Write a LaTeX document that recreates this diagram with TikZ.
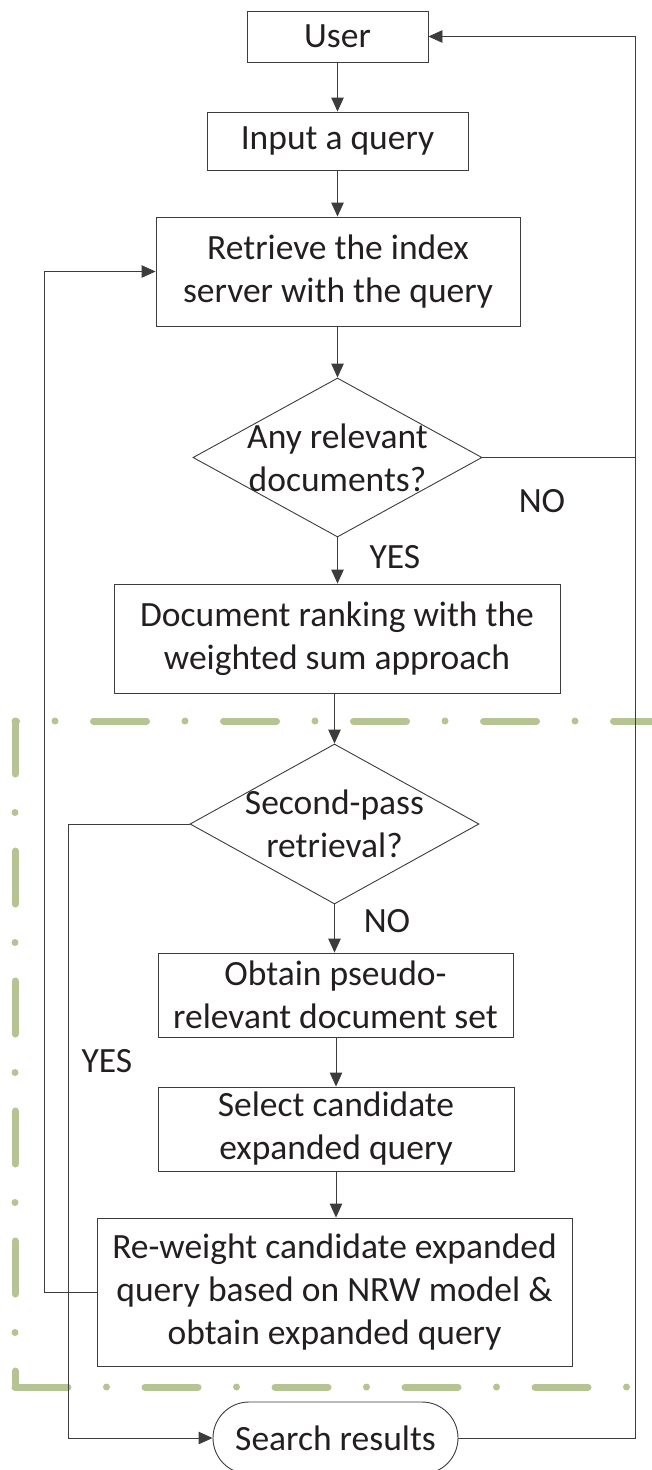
\documentclass[tikz,border=0pt]{standalone}
\usepackage{fontspec}
\setmainfont{Carlito}
\usetikzlibrary{shapes.geometric,arrows.meta}
\definecolor{txt}{RGB}{35,31,32}
\definecolor{edge}{RGB}{60,60,60}
\definecolor{olivedash}{RGB}{181,196,146}
\tikzset{
  every node/.style={font=\fontsize{35.5}{43}\selectfont, text=txt},
  box/.style={draw=edge, line width=0.9pt, rectangle, inner sep=0pt, align=center},
  decision/.style={draw=edge, line width=0.9pt, diamond, inner sep=0pt, aspect=1.8},
  term/.style={draw=edge, line width=0.9pt, rectangle, rounded corners=36pt, inner sep=0pt},
  conn/.style={draw=edge, line width=0.9pt},
  arr/.style={conn, -{Triangle[length=14pt,width=12.5pt]}},
  sep/.style={draw=olivedash, line width=7pt, line cap=round,
    dash pattern=on 53pt off 38.5pt on 0pt off 38.5pt},
  lbl/.style={anchor=base, inner sep=0pt}
}
\begin{document}
\begin{tikzpicture}[x=1pt,y=-1pt]
\useasboundingbox (0,0) rectangle (652,1470);
\clip (0,0) rectangle (652,1470);
% dash-dot separators
\draw[sep, dash phase=51.5pt] (15,721) -- (690,721);
\draw[sep] (15,721) -- (15,1387);
\draw[sep] (15,1387) -- (640,1387);
% nodes
\node[box, minimum width=181pt, minimum height=51pt] (user) at (337.5,36.5) {User};
\node[box, minimum width=261pt, minimum height=58pt] (input) at (337.5,141) {Input a query};
\node[box, minimum width=364pt, minimum height=109pt] (retr) at (338,271.5) {Retrieve the index\\server with the query};
\node[decision, minimum width=289pt, minimum height=159pt] (d1) at (337.5,457.5) {};
\node[align=center, inner sep=0pt] (d1t) at (d1.center) {Any relevant\\documents?};
\node[box, minimum width=446pt, minimum height=109pt] (rank) at (337,638.5) {Document ranking with the\\weighted sum approach};
\node[decision, minimum width=289pt, minimum height=160pt] (d2) at (334.5,824) {};
\node[align=center, inner sep=0pt] (d2t) at (d2.center) {Second-pass\\retrieval?};
\node[box, minimum width=355pt, minimum height=84pt] (obt) at (335.5,995) {Obtain pseudo-\\relevant document set};
\node[box, minimum width=356pt, minimum height=84pt] (sel) at (336,1129) {Select candidate\\expanded query};
\node[box, minimum width=475pt, minimum height=148pt] (rew) at (334.5,1292) {Re-weight candidate expanded\\query based on NRW model \&\\obtain expanded query};
\node[term, minimum width=245pt, minimum height=72pt] (res) at (335.5,1438) {Search results};
% labels
\node[lbl] (yes1) at (395,568) {YES};
\node[lbl] (no1) at (542,512) {NO};
\node[lbl] (no2) at (387,932) {NO};
\node[lbl] (yes2) at (107,1072) {YES};
% helper coordinates
\coordinate (rx) at (635,0);
\coordinate (lx1) at (44,0);
\coordinate (lx2) at (68,0);
% main flow
\draw[arr] (user.south) -- (user.south |- input.north);
\draw[arr] (input.south) -- (input.south |- retr.north);
\draw[arr] (retr.south -| d1.north) -- (d1.north);
\draw[arr] (d1.south) -- (d1.south |- rank.north);
\draw[arr] (d2.north |- rank.south) -- (d2.north);
\draw[arr] (d2.south) -- (d2.south |- obt.north);
\draw[arr] (obt.south -| sel.north) -- (sel.north);
\draw[arr] (sel.south) -- (sel.south |- rew.north);
% feedback loops
\draw[arr] (d1.east) -- (rx |- d1.east) -- (rx |- user.east) -- (user.east);
\draw[conn] (res.east) -- (rx |- res.east) -- (rx |- d1.east);
\draw[arr] (rew.west) -- (lx1 |- rew.west) -- (lx1 |- retr.west) -- (retr.west);
\draw[arr] (d2.west) -- (lx2 |- d2.west) -- (lx2 |- res.west) -- (res.west);
\end{tikzpicture}
\end{document}
